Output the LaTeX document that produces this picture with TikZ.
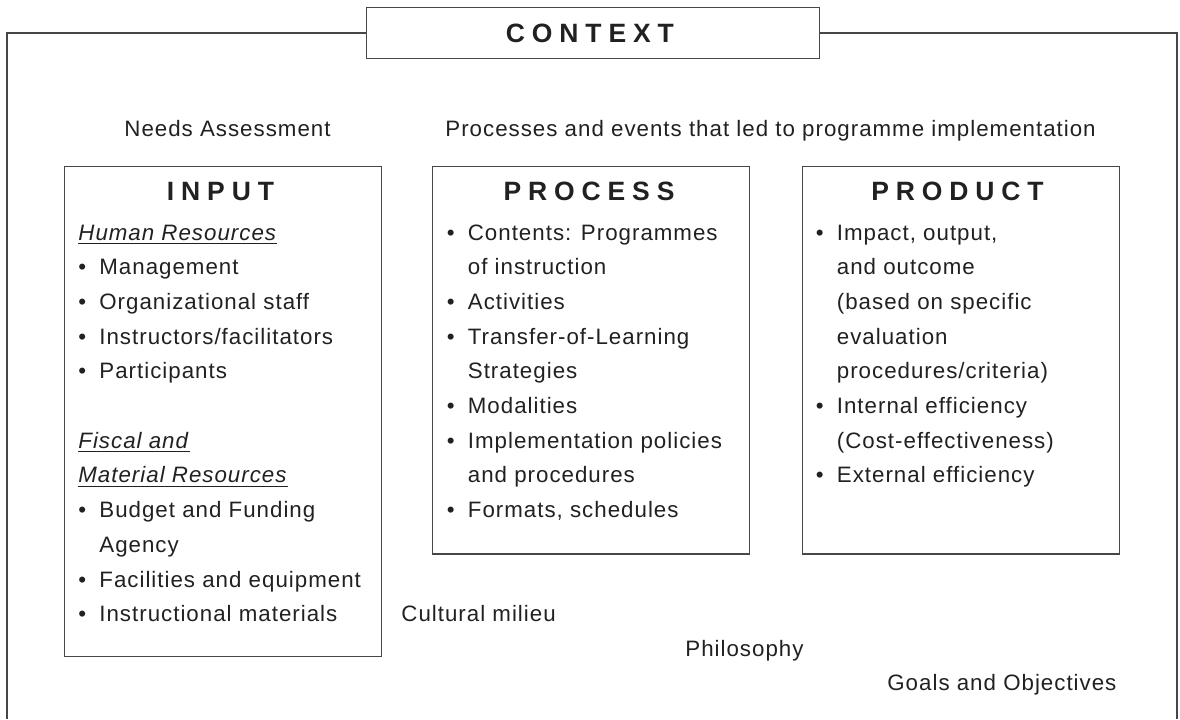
\documentclass[tikz,border=0pt]{standalone}
\usepackage{fontspec}
\setmainfont{Liberation Sans}[LetterSpace=4.5]
\newfontfamily\capsfont{Liberation Sans}[LetterSpace=26]
\usepackage{xcolor,tikz}
\usetikzlibrary{positioning}
\definecolor{ink}{gray}{0.13}
\definecolor{rule}{gray}{0.28}
\newcommand{\bul}[1]{\makebox[10.5pt][l]{•}#1}
\newcommand{\cont}[1]{\hspace*{10.5pt}#1}
\newcommand{\head}[1]{\underline{\textit{#1}}}
\tikzset{
  box/.style={draw=rule,line width=0.65pt,inner sep=0pt,anchor=north west,minimum width=158.5pt},
  txt/.style={inner sep=0pt,anchor=base west,text=ink,font=\fontsize{11.15}{13}\selectfont},
  ttl/.style={inner sep=0pt,anchor=base,text=ink,font=\capsfont\bfseries\fontsize{13.25}{15}\selectfont},
}

\begin{document}
\begin{tikzpicture}[x=0.5pt,y=-0.5pt]
\fill[white] (0,0) rectangle (1180,719);
\useasboundingbox (0,0) rectangle (1180,719);
% outer frame, open at the bottom
\node[draw=rule,line width=0.65pt,inner sep=0pt,minimum width=226.3pt,minimum height=25.7pt,text=ink,
  font=\capsfont\bfseries\fontsize{13.25}{15}\selectfont] (context) at (593,33) {\hspace*{-3.1pt}CONTEXT};
\coordinate (fl) at (7,719);\coordinate (fr) at (1177,719);
\draw[rule,line width=0.65pt] (fl) |- (context.west) (context.east) -| (fr);
\node[txt] (needs) at (124,136){Needs Assessment};
\node[txt] (events) at (445,136){Processes and events that led to programme implementation};
% the three boxes
\node[box,minimum height=244.85pt] (input) at (64,166){};
\node[box,minimum height=193.65pt] (process) at (432,166){};
\node[box,minimum height=193.65pt] (product) at (801.5,166){};
\node[ttl] (input-t) at (220.5,200){INPUT};
\node[ttl] (process-t) at (589,200){PROCESS};
\node[ttl] (product-t) at (957.5,200){PRODUCT};
\foreach \t [count=\i from 0] in {{\head{Human Resources}},{\bul{Management}},{\bul{Organizational staff}},
  {\bul{Instructors/facilitators}},{\bul{Participants}}}
  \node[txt] (input-a\i) at (78,240+34.7*\i){\t};
\foreach \t [count=\i from 0] in {{\head{Fiscal and}},{\head{Material Resources}},{\bul{Budget and Funding}},
  {\cont{Agency}},{\bul{Facilities and equipment}},{\bul{Instructional materials}}}
  \node[txt] (input-b\i) at (78,448.2+34.7*\i){\t};
\foreach \t [count=\i from 0] in {{\bul{Contents: Programmes}},{\cont{of instruction}},{\bul{Activities}},
  {\bul{Transfer-of-Learning}},{\cont{Strategies}},{\bul{Modalities}},{\bul{Implementation policies}},
  {\cont{and procedures}},{\bul{Formats, schedules}}}
  \node[txt] (process-\i) at (446.5,240+34.7*\i){\t};
\foreach \t [count=\i from 0] in {{\bul{Impact, output,}},{\cont{and outcome}},{\cont{(based on specific}},
  {\cont{evaluation}},{\cont{procedures/criteria)}},{\bul{Internal efficiency}},{\cont{(Cost-effectiveness)}},
  {\bul{External efficiency}}}
  \node[txt] (product-\i) at (815.5,240+34.7*\i){\t};
% loose labels under the boxes
\node[txt] (milieu) at (401,621){Cultural milieu};
\node[txt] (philo) at (685,656){Philosophy};
\node[txt] (goals) at (887,690){Goals and Objectives};
\end{tikzpicture}
\end{document}
